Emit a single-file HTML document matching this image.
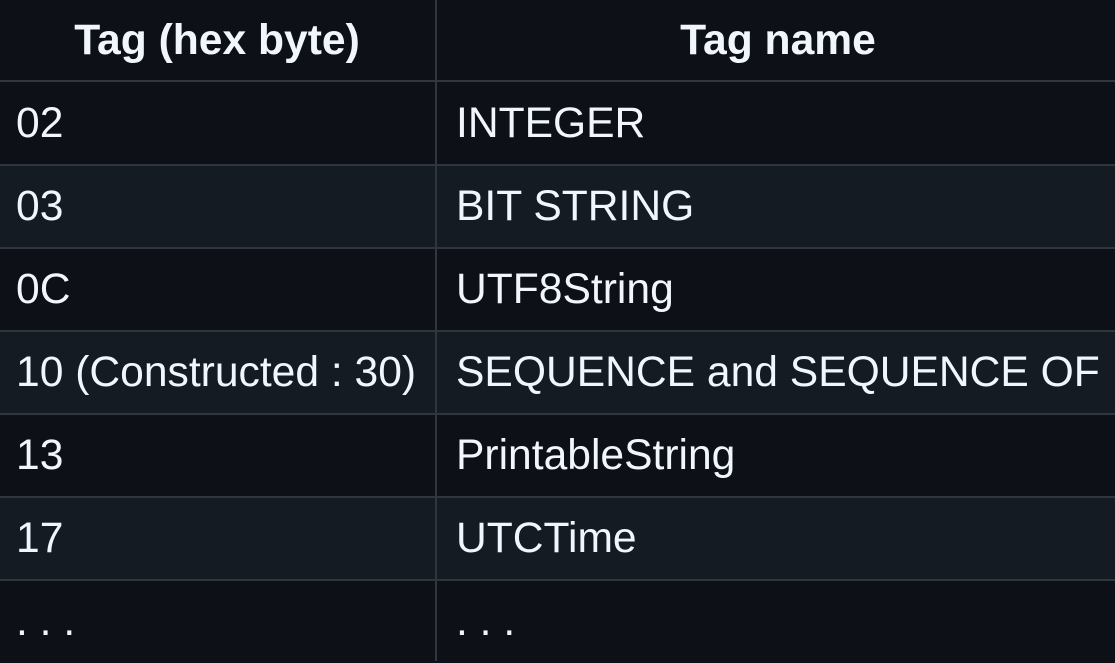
<!DOCTYPE html>
<html><head><style>
html,body{margin:0;padding:0;background:#0d1117;width:1115px;height:661px;overflow:hidden}
.r{position:absolute;left:0;width:1115px;font-family:"Liberation Sans",sans-serif;color:#f0f6fc;font-size:42.6px}
.r div{position:absolute;top:0;height:100%;display:flex;align-items:center;white-space:nowrap}
.a{left:16px}.b{left:456px}
.h div{font-weight:bold;justify-content:center}
.line{position:absolute;left:0;width:1115px;height:2px;background:#30363d}
.v{position:absolute;left:435px;top:0;width:2px;height:661px;background:#30363d}
</style></head><body>
<div class="r h" style="top:0;height:81px"><div style="left:0;width:434px">Tag (hex byte)</div><div style="left:437px;width:682px">Tag name</div></div>
<div class="r" style="top:82px;height:83px"><div class="a">02</div><div class="b">INTEGER</div></div>
<div class="r" style="top:165px;height:83px;background:#151b23"><div class="a">03</div><div class="b">BIT STRING</div></div>
<div class="r" style="top:248px;height:83px"><div class="a">0C</div><div class="b">UTF8String</div></div>
<div class="r" style="top:331px;height:83px;background:#151b23"><div class="a">10 (Constructed : 30)</div><div class="b">SEQUENCE and SEQUENCE OF</div></div>
<div class="r" style="top:414px;height:83px"><div class="a">13</div><div class="b">PrintableString</div></div>
<div class="r" style="top:497px;height:83px;background:#151b23"><div class="a">17</div><div class="b">UTCTime</div></div>
<div class="r" style="top:580px;height:83px"><div class="a">. . .</div><div class="b">. . .</div></div>
<div class="line" style="top:80px"></div>
<div class="line" style="top:164px"></div>
<div class="line" style="top:247px"></div>
<div class="line" style="top:330px"></div>
<div class="line" style="top:413px"></div>
<div class="line" style="top:496px"></div>
<div class="line" style="top:579px"></div>
<div class="v"></div>
</body></html>
